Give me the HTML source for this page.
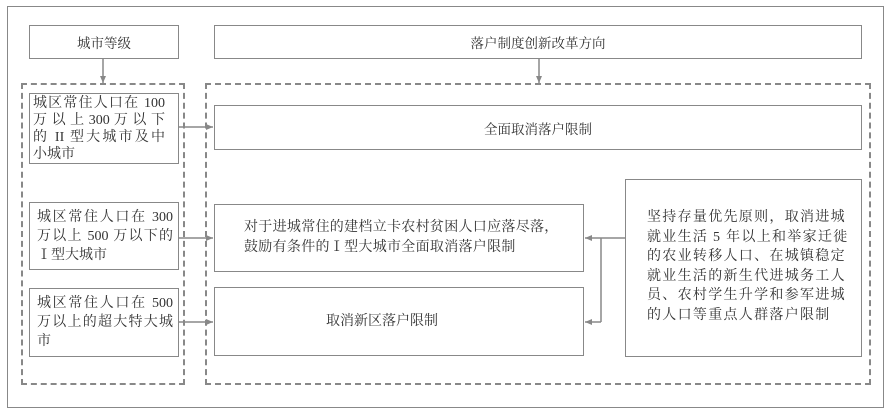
<!DOCTYPE html>
<html><head><meta charset="utf-8"><style>
body{margin:0;background:#fff;}
#c{position:relative;width:890px;height:417px;overflow:hidden;font-family:"Liberation Serif","Noto Serif CJK SC",serif;color:#333;font-size:13.5px;}
.b{position:absolute;border:1.5px solid #888;box-sizing:border-box;background:#fff;}
.d{position:absolute;border:2px dashed #888;box-sizing:border-box;}
.t{position:absolute;white-space:nowrap;}
.ctr{display:flex;align-items:center;justify-content:center;text-align:center;}
.j{text-align:justify;text-align-last:justify;display:block;}
</style></head><body><div id="c">
<div class="b" style="left:7px;top:6px;width:877px;height:402px;border-width:1.5px"></div>
<div class="d" style="left:21px;top:83px;width:164px;height:302px"></div>
<div class="d" style="left:205px;top:83px;width:666px;height:302px"></div>

<div class="b ctr" style="left:29px;top:25px;width:150px;height:34px">城市等级</div>
<div class="b ctr" style="left:214px;top:25px;width:648px;height:34px">落户制度创新改革方向</div>

<div class="b" style="left:29px;top:93px;width:150px;height:71px"></div>
<div class="t" style="left:33px;top:95px;width:132px;line-height:17px;font-size:14px;white-space:normal">
<span class="j">城区常住人口在 100</span><span class="j">万 以 上 300 万 以 下</span><span class="j">的 II 型大城市及中</span><span>小城市</span></div>

<div class="b" style="left:29px;top:202px;width:150px;height:68px"></div>
<div class="t" style="left:37px;top:208px;width:136px;line-height:19px;font-size:14px;white-space:normal">
<span class="j">城区常住人口在 300</span><span class="j">万以上 500 万以下的</span><span>Ⅰ型大城市</span></div>

<div class="b" style="left:29px;top:288px;width:150px;height:69px"></div>
<div class="t" style="left:37px;top:294px;width:136px;line-height:19px;font-size:14px;white-space:normal">
<span class="j">城区常住人口在 500</span><span class="j">万以上的超大特大城</span><span>市</span></div>

<div class="b ctr" style="left:214px;top:105px;width:648px;height:45px">全面取消落户限制</div>
<div class="b" style="left:214px;top:204px;width:370px;height:68px"></div>
<div class="t" style="left:244px;top:218px;line-height:20px;font-size:14px;letter-spacing:0.3px">对于进城常住的建档立卡农村贫困人口应落尽落，<br>鼓励有条件的Ⅰ型大城市全面取消落户限制</div>
<div class="b" style="left:214px;top:287px;width:370px;height:69px"></div>
<div class="t" style="left:326px;top:312px;font-size:14px;line-height:20px">取消新区落户限制</div>

<div class="b" style="left:625px;top:179px;width:237px;height:178px"></div>
<div class="t" style="left:647px;top:208px;line-height:19.6px;font-size:14px;letter-spacing:1.3px">坚持存量优先原则，取消进城<br>就业生活 5 年以上和举家迁徙<br>的农业转移人口、在城镇稳定<br>就业生活的新生代进城务工人<br>员、农村学生升学和参军进城<br>的人口等重点人群落户限制</div>

<svg style="position:absolute;left:0;top:0" width="890" height="417">
<defs><marker id="a" markerWidth="8" markerHeight="8" refX="7" refY="4" orient="auto" markerUnits="userSpaceOnUse"><path d="M0,1 L7,4 L0,7 z" fill="#888"/></marker></defs>
<g stroke="#888" stroke-width="1.5" fill="none">
<line x1="103" y1="59" x2="103" y2="83" marker-end="url(#a)"/>
<line x1="539" y1="59" x2="539" y2="83" marker-end="url(#a)"/>
<line x1="179" y1="127" x2="213" y2="127" marker-end="url(#a)"/>
<line x1="179" y1="238" x2="213" y2="238" marker-end="url(#a)"/>
<line x1="179" y1="322" x2="213" y2="322" marker-end="url(#a)"/>
<line x1="625" y1="238" x2="601" y2="238"/>
<line x1="601" y1="238" x2="601" y2="322"/>
<line x1="601" y1="238" x2="585" y2="238" marker-end="url(#a)"/>
<line x1="601" y1="322" x2="585" y2="322" marker-end="url(#a)"/>
</g></svg>
</div></body></html>
